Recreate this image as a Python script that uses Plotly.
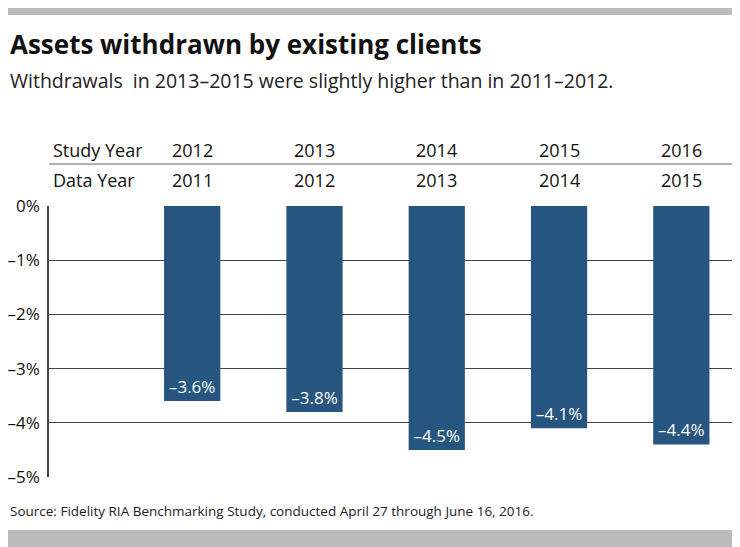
import plotly.graph_objects as go

study_years = ["2012", "2013", "2014", "2015", "2016"]
data_years = ["2011", "2012", "2013", "2014", "2015"]
values = [-3.6, -3.8, -4.5, -4.1, -4.4]
labels = ["–3.6%", "–3.8%", "–4.5%", "–4.1%", "–4.4%"]
tick_vals = [0, -1, -2, -3, -4, -5]
tick_text = ["0%", "–1%", "–2%", "–3%", "–4%", "–5%"]

xs = [1, 2, 3, 4, 5]
OFF = 8  # page body margin
W, H = 740 - OFF, 547 - OFF
font = "Open Sans"
fig = go.Figure(go.Bar(
    x=xs, y=values, width=0.46, marker=dict(color="#26567f", line=dict(width=0)),
    text=labels, textposition="inside", insidetextanchor="end",
    textfont=dict(color="white", size=17, family=font), cliponaxis=False))

fig.update_layout(
    width=W, height=H, margin=dict(l=45 - OFF, r=0, t=206 - OFF, b=70, pad=0),
    plot_bgcolor="white", paper_bgcolor="white", showlegend=False,
    font=dict(family=font, color="#111"),
    xaxis=dict(range=[1 - 144 / 123, 5 + 59 / 123], showticklabels=False, showgrid=False, zeroline=False),
    yaxis=dict(range=[-5, 0], tickvals=tick_vals, ticktext=tick_text, showgrid=True,
               gridcolor="#444", gridwidth=1, zeroline=False, showline=True,
               linecolor="#444", linewidth=1.5, tickfont=dict(size=17, family=font, color="#111"),
               ticks="", ticklabelstandoff=4),
)

def py(pix):  # page pixel y -> paper y
    return (477 - pix) / 271

def px(pix):
    return (pix - 45) / 695

shapes = [
    dict(type="rect", xref="paper", yref="paper", x0=px(0), x1=px(740), y0=py(-10), y1=py(15), fillcolor="#bcbcbc", line_width=0, layer="below"),
    dict(type="rect", xref="paper", yref="paper", x0=px(0), x1=px(740), y0=py(530), y1=py(560), fillcolor="#bcbcbc", line_width=0, layer="below"),
    dict(type="line", xref="paper", yref="paper", x0=px(45), x1=px(740), y0=py(164), y1=py(164), line=dict(color="#999", width=1.5)),
]
ann = [
    dict(text="<b>Assets withdrawn by existing clients</b>", x=px(4), y=py(44), xanchor="left", yanchor="middle",
         font=dict(size=26, family=font, color="#111")),
    dict(text="Withdrawals  in 2013–2015 were slightly higher than in 2011–2012.", x=px(4), y=py(80),
         xanchor="left", yanchor="middle", font=dict(size=19.5, family=font, color="#222")),
    dict(text="Study Year", x=px(47), y=py(150), xanchor="left", yanchor="middle", font=dict(size=18, family=font)),
    dict(text="Data Year", x=px(47), y=py(180), xanchor="left", yanchor="middle", font=dict(size=18, family=font)),
    dict(text="Source: Fidelity RIA Benchmarking Study, conducted April 27 through June 16, 2016.", x=px(4), y=py(511),
         xanchor="left", yanchor="middle", font=dict(size=13.5, family=font, color="#222")),
]
for i in range(5):
    ann.append(dict(text=study_years[i], x=xs[i], xref="x", y=py(150), xanchor="center", yanchor="middle", font=dict(size=18, family=font)))
    ann.append(dict(text=data_years[i], x=xs[i], xref="x", y=py(180), xanchor="center", yanchor="middle", font=dict(size=18, family=font)))
for a in ann:
    a.setdefault("xref", "paper")
    a["yref"] = "paper"
    a["showarrow"] = False
fig.update_layout(shapes=shapes, annotations=ann)
fig.write_html("out.html")
